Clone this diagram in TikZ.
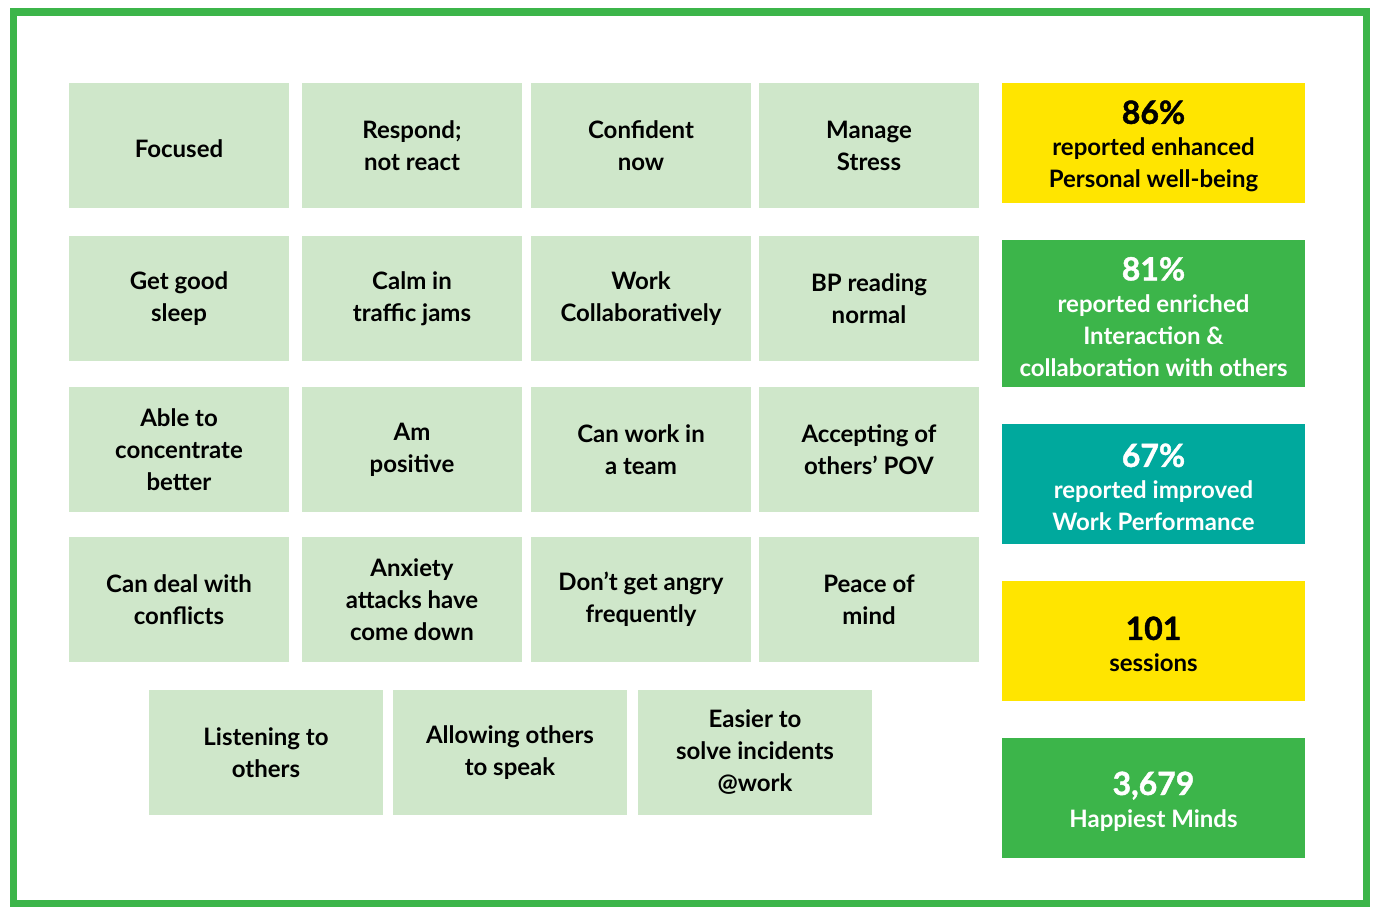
\documentclass[tikz,border=0pt]{standalone}
\usepackage{fontspec}
\setmainfont{Lato}
\newfontfamily\heavyfont{Lato Bold}[FakeBold=1.3]
\usetikzlibrary{positioning}
\definecolor{palegreen}{HTML}{CFE7CA}
\definecolor{framegreen}{HTML}{3CB54A}
\definecolor{statyellow}{HTML}{FFE500}
\definecolor{statteal}{HTML}{00A99D}
\tikzset{
  benefit/.style={fill=palegreen, minimum width=220pt, minimum height=125pt,
    inner sep=0pt, outer sep=0pt, align=center,
    font=\bfseries\fontsize{24}{32}\selectfont,
    execute at begin node=\rule{0pt}{24pt}},
  wide/.style={benefit, minimum width=234pt},
  stat/.style={minimum width=303pt, minimum height=120pt, inner sep=0pt,
    outer sep=0pt, align=center, font=\bfseries\fontsize{24}{32}\selectfont},
}
\newcommand{\bignum}[1]{{\heavyfont\mdseries\fontsize{32}{32}\selectfont\rule{0pt}{30pt}#1}\\}
\begin{document}
\begin{tikzpicture}[x=1pt, y=-1pt]
            \useasboundingbox (0,0) rectangle (1374,906);
            \draw[framegreen, line width=7.5pt] (13.5,12) rectangle (1366.5,904);
            % benefit grid
            \node[benefit] (focused) at (179,145.5) {Focused};
            \node[benefit, right=13pt of focused] (respond) {Respond;\\not react};
            \node[benefit, right=9pt of respond] (confident) {Confident\\now};
            \node[benefit, right=8pt of confident] (stress) {Manage\\Stress};
            \node[benefit, below=28pt of focused] (sleep) {Get good\\sleep};
            \node[benefit, below=28pt of respond] (calm) {Calm in\\traffic jams};
            \node[benefit, below=28pt of confident] (collab) {Work\\Collaboratively};
            \node[benefit, below=28pt of stress] (bp) {BP reading\\normal};
            \node[benefit, below=26pt of sleep] (concentrate) {Able to\\concentrate\\better};
            \node[benefit, below=26pt of calm] (positive) {Am\\positive};
            \node[benefit, below=26pt of collab] (team) {Can work in\\a team};
            \node[benefit, below=26pt of bp] (accept) {Accepting of\\others’ POV};
            \node[benefit, below=25pt of concentrate] (conflicts) {Can deal with\\conflicts};
            \node[benefit, below=25pt of positive] (anxiety) {Anxiety\\attacks have\\come down};
            \node[benefit, below=25pt of team] (angry) {Don’t get angry\\frequently};
            \node[benefit, below=25pt of accept] (peace) {Peace of\\mind};
            \node[wide] (listen) at (266,752.5) {Listening to\\others};
            \node[wide, right=10pt of listen] (allow) {Allowing others\\to speak};
            \node[wide, right=11pt of allow] (incidents) {Easier to\\solve incidents\\@work};
            % stats column
            \node[stat, fill=statyellow] (wellbeing) at (1153.5,143)
              {\bignum{86\%}reported enhanced\\Personal well-being};
            \node[stat, fill=framegreen, text=white, minimum height=147pt, below=37pt of wellbeing] (interaction)
              {\bignum{81\%}reported enriched\\Interaction \&\\collaboration with others};
            \node[stat, fill=statteal, text=white, below=37pt of interaction] (performance)
              {\bignum{67\%}reported improved\\Work Performance};
            \node[stat, fill=statyellow, below=37pt of performance] (sessions)
              {\bignum{101}sessions};
            \node[stat, fill=framegreen, text=white, below=37pt of sessions] (minds)
              {\bignum{3,679}Happiest Minds};
\end{tikzpicture}
\end{document}
